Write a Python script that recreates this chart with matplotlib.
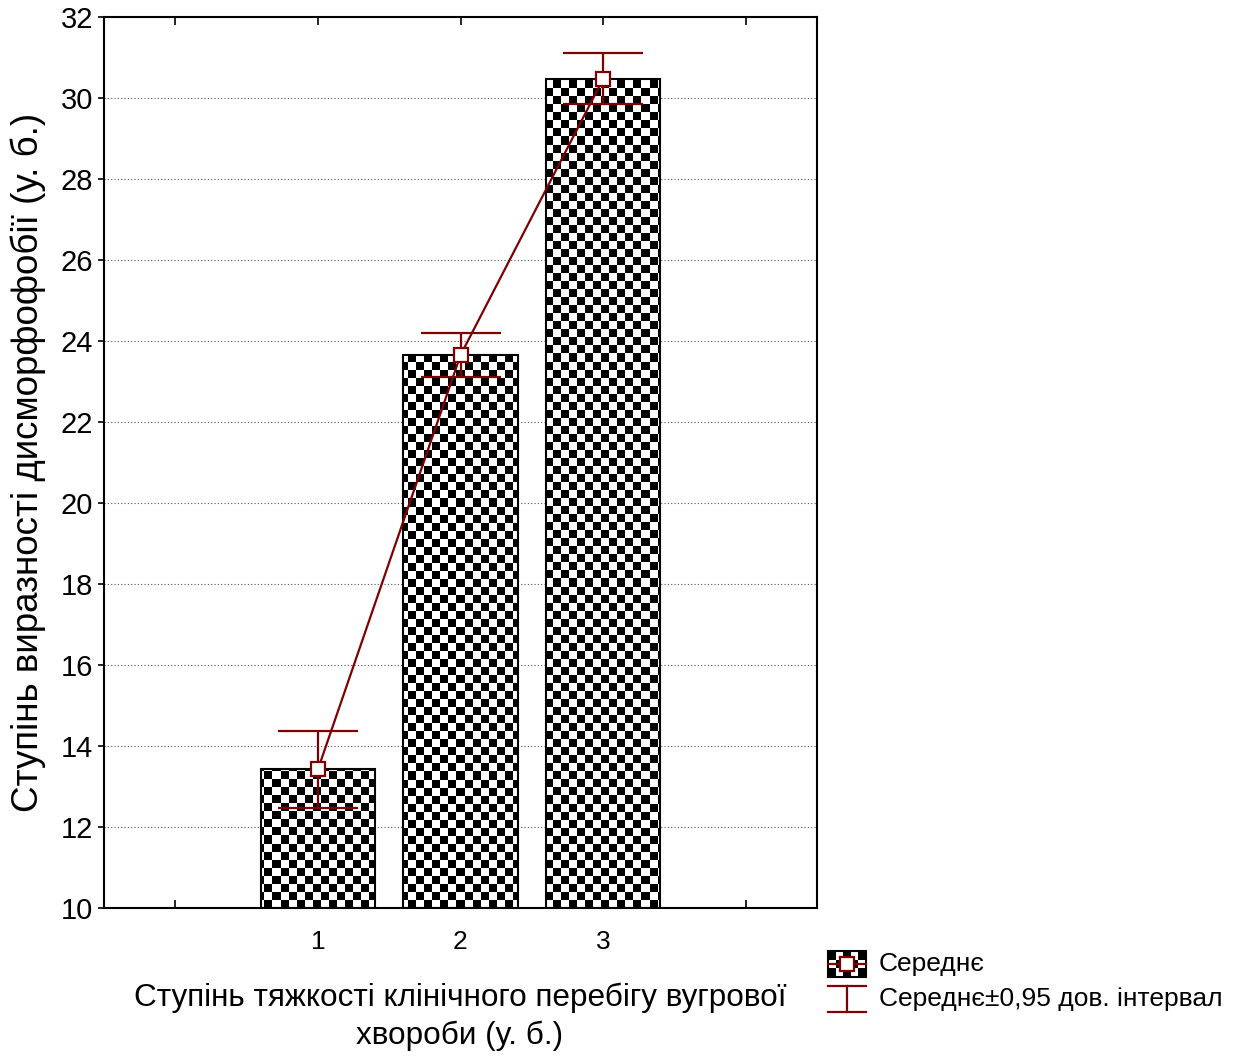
import numpy as np
import matplotlib
matplotlib.use("Agg")
import matplotlib.pyplot as plt
from matplotlib.lines import Line2D

plt.rcParams['font.family'] = ['Liberation Sans', 'DejaVu Sans']

# data
groups = [1, 2, 3]
means = [13.42, 23.65, 30.47]
ci_half = [0.95, 0.54, 0.63]
y_ticks = [10, 12, 14, 16, 18, 20, 22, 24, 26, 28, 30, 32]

dark_red = '#800000'


def checker(nx, ny):
    # 1 = white, 0 = black
    ii, jj = np.indices((ny, nx))
    return (ii + jj) % 2


fig = plt.figure(figsize=(12.38, 10.57), dpi=100)
ax = fig.add_axes([104 / 1238, 1 - 908 / 1057, 713 / 1238, 891 / 1057])
ax.set_xlim(-0.5, 4.5)
ax.set_ylim(10, 32)

# bars with checkerboard fill (image clipped to each bar)
bars = ax.bar(groups, [m - 10 for m in means], bottom=10, width=0.8,
              facecolor='none', edgecolor='black', linewidth=1.5, zorder=2)
board = checker(89, 111)
for b in bars:
    im = ax.imshow(board, cmap='gray', vmin=0, vmax=1, interpolation='nearest',
                   extent=(-0.5, 4.5, 10, 32), aspect='auto', zorder=1.5)
    im.set_clip_path(b)
ax.set_aspect('auto')

ax.grid(axis='y', linestyle=(0, (1, 2)), color='#555555', linewidth=0.8, zorder=0)
ax.set_axisbelow(True)

# means line + CI
ax.errorbar(groups, means, yerr=ci_half, color=dark_red, linewidth=1.6,
            capsize=29, capthick=1.6, marker='s', markersize=10,
            markerfacecolor='white', markeredgecolor=dark_red,
            markeredgewidth=1.6, zorder=4)

ax.set_yticks(y_ticks)
ax.set_yticklabels([str(t) for t in y_ticks], fontsize=21)
ax.set_xticks([0, 1, 2, 3, 4])
ax.set_xticklabels(['', '1', '2', '3', ''], fontsize=19)
ax.tick_params(axis='x', direction='in', top=True, length=6, width=1.2, pad=16)
ax.tick_params(axis='y', direction='out', length=4, width=1.2, pad=4)
for s in ax.spines.values():
    s.set_linewidth(1.5)

ax.set_ylabel('Ступінь виразності дисморфофобії (у. б.)', fontsize=26.5, labelpad=10)
fig.text(460 / 1238, 1 - 1017 / 1057,
         'Ступінь тяжкості клінічного перебігу вугрової\nхвороби (у. б.)',
         ha='center', va='center', fontsize=22.7, linespacing=1.35)

# legend drawn by hand
lax = fig.add_axes([0, 0, 1, 1], zorder=5)
lax.set_xlim(0, 1238)
lax.set_ylim(1057, 0)
lax.axis('off')
lax.imshow(checker(5, 3), cmap='gray', vmin=0, vmax=1, interpolation='nearest',
           extent=(828, 866, 977, 951), aspect='auto')
lax.add_patch(plt.Rectangle((828, 951), 38, 26, fill=False, edgecolor='black', linewidth=1.5))
lax.add_line(Line2D([828, 866], [964, 964], color=dark_red, linewidth=1.6))
lax.plot([847], [964], marker='s', markersize=10, markerfacecolor='white',
         markeredgecolor=dark_red, markeredgewidth=1.6)
lax.add_line(Line2D([828, 866], [986, 986], color=dark_red, linewidth=1.6))
lax.add_line(Line2D([828, 866], [1012, 1012], color=dark_red, linewidth=1.6))
lax.add_line(Line2D([847, 847], [986, 1012], color=dark_red, linewidth=1.6))
lax.text(879, 964, 'Середнє', fontsize=19, va='center', ha='left')
lax.text(879, 999, 'Середнє±0,95 дов. інтервал', fontsize=19, va='center', ha='left')

fig.savefig('out.png', dpi=100)
